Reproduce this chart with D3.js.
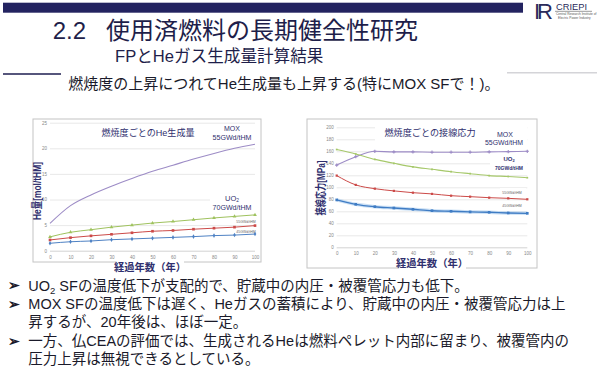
<!DOCTYPE html>
<html><head><meta charset="utf-8">
<script src="https://cdn.jsdelivr.net/npm/d3@7"></script>
<style>
html,body{margin:0;padding:0;background:#fff;}
text{font-family:"Liberation Sans","Noto Sans CJK JP",sans-serif;}
</style></head>
<body><svg id="c" width="599" height="368"></svg>
<script>
// ---- data ----
const years = [0,10,20,30,40,50,60,70,80,90,100];
const yearTicks = [0,10,20,30,40,50,60,70,80,90,100];
const heTicks = [0,5,10,15,20,25];
const stressTicks = [0,20,40,60,80,100,120,140,160,180,200];

const heMOX55  = [5.35,8.8,10.9,12.6,14.1,15.5,16.7,17.9,19.0,20.0,20.8];
const heUO2_70 = [2.7,3.6,4.1,4.6,5.0,5.4,5.7,6.05,6.4,6.7,7.0];
const heUO2_55 = [2.1,2.55,2.9,3.2,3.5,3.8,3.95,4.2,4.4,4.6,4.9];
const heUO2_45 = [1.45,1.75,1.9,2.15,2.3,2.45,2.6,2.75,2.95,3.05,3.25];

const stMOX55  = [137,151,160,159,159,158.5,158.5,158.5,159,159.5,160];
const stUO2_70 = [163,155.5,146.5,140,134,130,126,122.7,119.5,118,116];
const stUO2_55 = [119.5,104,97.7,94,91,89,86,84.4,82.7,81.6,80];
const stUO2_45 = [79,71.6,67.7,65.5,63.3,61,60,59,58.3,57.2,56.6];

const bullets = [
  ["UO", "2", " SFの温度低下が支配的で、貯蔵中の内圧・被覆管応力も低下。"],
  ["MOX SFの温度低下は遅く、Heガスの蓄積により、貯蔵中の内圧・被覆管応力は上"],
  ["昇するが、20年後は、ほぼ一定。"],
  ["一方、仏CEAの評価では、生成されるHeは燃料ペレット内部に留まり、被覆管内の"],
  ["圧力上昇は無視できるとしている。"]
];

const svg = d3.select("#c");
const navy = "#1e1e4a";
const labNavy = "#2f2f6e";

// ---- header ----
svg.append("rect").attr("x",3).attr("y",2.7).attr("width",520).attr("height",10).attr("fill","#232360");
svg.append("text").attr("x",534).attr("y",18.5).attr("font-family","Liberation Serif, DejaVu Serif, serif")
  .attr("font-size",22).attr("fill","#2a2a5a").attr("letter-spacing",-3).text("IR");
svg.append("text").attr("x",556).attr("y",9.5).attr("font-size",9.3).attr("fill","#2a2a5a").text("CRIEPI");
svg.append("line").attr("x1",555).attr("x2",592).attr("y1",11.3).attr("y2",11.3).attr("stroke","#555").attr("stroke-width",0.6);
svg.append("text").attr("x",556).attr("y",15.3).attr("font-size",3.2).attr("fill","#555").text("Central Research Institute of");
svg.append("text").attr("x",558).attr("y",19).attr("font-size",3.2).attr("fill","#555").text("Electric Power Industry");

svg.append("text").attr("x",52.7).attr("y",39.3).attr("font-size",24).attr("fill",navy).text("2.2");
svg.append("text").attr("x",106).attr("y",39.3).attr("font-size",24).attr("fill",navy).text("使用済燃料の長期健全性研究");
svg.append("text").attr("x",115).attr("y",61.7).attr("font-size",16.6).attr("fill",navy).text("FPとHeガス生成量計算結果");
svg.append("line").attr("x1",3).attr("x2",61).attr("y1",74).attr("y2",74).attr("stroke","#1e1e50").attr("stroke-width",1.4);
svg.append("line").attr("x1",507).attr("x2",597).attr("y1",72.7).attr("y2",72.7).attr("stroke","#d4d4d8").attr("stroke-width",1.5);
svg.append("text").attr("x",68.3).attr("y",89.3).attr("font-size",15).attr("fill","#1a1a2a").text("燃焼度の上昇につれてHe生成量も上昇する(特にMOX SFで！)。");

function whiteBehind(g, x, y, w, h){
  g.append("rect").attr("x",x).attr("y",y).attr("width",w).attr("height",h).attr("fill","#fff");
}

function drawChart(cfg){
  const g = svg.append("g");
  g.append("rect").attr("x",cfg.box[0]).attr("y",cfg.box[1]).attr("width",cfg.box[2]).attr("height",cfg.box[3])
    .attr("fill","#fff").attr("stroke","#c4c4c4").attr("stroke-width",1);
  const x = d3.scaleLinear().domain([0,100]).range(cfg.xr);
  const y = d3.scaleLinear().domain(cfg.yd).range(cfg.yr);
  const grid = g.append("g").attr("transform",`translate(${cfg.xr[0]},0)`)
    .call(d3.axisLeft(y).tickValues(cfg.yTicks).tickSize(-(cfg.xr[1]-cfg.xr[0])).tickFormat(""));
  grid.select(".domain").remove();
  grid.selectAll(".tick line").attr("stroke","#e2e2e2").attr("stroke-width",0.8);
  grid.selectAll(".tick").filter(d=>d===0).select("line").attr("stroke","#c8c8c8");
  cfg.whites.forEach(w=>whiteBehind(g,...w));
  const ya = g.append("g").attr("transform",`translate(${cfg.xr[0]-3},0)`)
    .call(d3.axisLeft(y).tickValues(cfg.yTicks).tickSize(0).tickPadding(0));
  ya.select(".domain").remove();
  ya.selectAll("text").attr("font-size",4.5).attr("fill","#888").attr("font-family","Liberation Sans, sans-serif");
  const xa = g.append("g").attr("transform",`translate(0,${cfg.yr[0]+cfg.xlabOff})`)
    .call(d3.axisBottom(x).tickValues(yearTicks).tickSize(0).tickPadding(0));
  xa.select(".domain").remove();
  xa.selectAll("text").attr("font-size",4.5).attr("fill","#888").attr("font-family","Liberation Sans, sans-serif");
  cfg.series.forEach(s=>{
    const line = d3.line().x((d,i)=>x(years[i])).y(d=>y(d)).curve(d3.curveMonotoneX);
    if (s.glow) g.append("path").attr("d",line(s.values)).attr("fill","none").attr("stroke",s.glow).attr("stroke-width",3.5).attr("opacity",0.6);
    g.append("path").attr("d",line(s.values)).attr("fill","none").attr("stroke",s.color).attr("stroke-width",s.w||1);
    if (s.marker) {
      const sym = d3.symbol().type(s.marker).size(s.msize||6);
      g.selectAll(null).data(s.values).enter().append("path")
        .attr("transform",(d,i)=>`translate(${x(years[i])},${y(d)})`)
        .attr("d",sym).attr("fill",s.color);
    }
  });
  const xt = cfg.xTitle;
  whiteBehind(g, xt[0]-34, xt[1]-8, 68, 14);
  g.append("text").attr("x",xt[0]).attr("y",xt[1]).attr("text-anchor","middle").attr("dominant-baseline","central")
    .attr("font-size",10.3).attr("font-weight","bold").attr("fill",labNavy).text("経過年数（年）");
  const yt = cfg.yTitle;
  g.append("text").attr("transform",`translate(${yt[0]},${yt[1]}) rotate(-90)`).attr("text-anchor","middle")
    .attr("dominant-baseline","central").attr("font-size",11).attr("font-weight","bold").attr("fill",labNavy)
    .attr("textLength",yt[2]).attr("lengthAdjust","spacingAndGlyphs").text(yt[3]);
  cfg.texts.forEach(t=>{
    const el = g.append("text").attr("x",t.x).attr("y",t.y).attr("font-size",t.size).attr("text-anchor",t.anchor||"middle")
      .attr("fill",t.fill||labNavy).attr("font-weight",t.bold?"bold":"normal");
    if (t.sub) {
      el.append("tspan").text(t.txt);
      el.append("tspan").attr("font-size",t.size*0.65).attr("dy",t.size*0.25).text(t.sub);
    } else el.text(t.txt);
    if (t.len) el.attr("textLength",t.len).attr("lengthAdjust","spacingAndGlyphs");
  });
}

drawChart({
  box:[33,119,228,143],
  xr:[50,255], yr:[250.7,122.7], yd:[0,25], yTicks:heTicks, xlabOff:5,
  whites:[[96,124,104,15],[210,124,46,17],[210,191,46,19],[234,218,24,6],[234,228,24,6]],
  series:[
    {values:heMOX55, color:"#9d8cc6", w:1.1},
    {values:heUO2_70, color:"#9fc25e", w:1, marker:d3.symbolTriangle, msize:6},
    {values:heUO2_55, color:"#cc4a48", w:1, marker:d3.symbolSquare, msize:7},
    {values:heUO2_45, color:"#4f82c4", w:1, marker:d3.symbolDiamond, msize:6}
  ],
  xTitle:[150,267.5], yTitle:[37,191,58,"He量[mol/tHM]"],
  texts:[
    {x:148,y:136,size:9.2,txt:"燃焼度ごとのHe生成量",len:93},
    {x:232,y:131,size:7,txt:"MOX"},
    {x:232,y:139.5,size:7,txt:"55GWd/tHM",len:39},
    {x:232,y:200.5,size:7.5,txt:"UO",sub:"2"},
    {x:232,y:209.5,size:7,txt:"70GWd/tHM",len:39},
    {x:246,y:223,size:3.5,txt:"55GWd/tHM",fill:"#666"},
    {x:246,y:233,size:3.5,txt:"45GWd/tHM",fill:"#666"}
  ]
});

drawChart({
  box:[307,119,230,149],
  xr:[336.7,527.3], yr:[247.3,127.3], yd:[0,200], yTicks:stressTicks, xlabOff:4,
  whites:[[375,122,108,19],[483,127,44,19],[490,151,37,21],[500,188,26,6],[500,201,26,6]],
  series:[
    {values:stMOX55, color:"#9d8cc6", w:1.1, marker:d3.symbolCross, msize:6},
    {values:stUO2_70, color:"#a6c86a", w:1.1, marker:d3.symbolSquare, msize:3},
    {values:stUO2_55, color:"#cc4a48", w:1, marker:d3.symbolSquare, msize:5},
    {values:stUO2_45, color:"#3f7cc4", w:1.4, glow:"#a8cbee", marker:d3.symbolSquare, msize:7}
  ],
  xTitle:[432,263.5], yTitle:[321,188,55,"接線応力[MPa]"],
  texts:[
    {x:430,y:135.5,size:9.2,txt:"燃焼度ごとの接線応力",len:91},
    {x:505,y:137,size:7,txt:"MOX"},
    {x:504,y:145,size:7,txt:"55GWd/tHM",len:38},
    {x:509,y:160.5,size:6,txt:"UO",sub:"2",bold:true},
    {x:509,y:169.5,size:6,txt:"70GWd/tHM",len:28,bold:true},
    {x:512,y:193.5,size:3.5,txt:"55GWd/tHM",fill:"#666"},
    {x:512,y:206.5,size:3.5,txt:"45GWd/tHM",fill:"#666"}
  ]
});

const by = [290.7,309.3,327.3,346,364];
const hasArrow = [true,true,false,true,false];
bullets.forEach((b,i)=>{
  if (hasArrow[i]) svg.append("text").attr("x",8).attr("y",by[i]-0.5).attr("font-family","DejaVu Sans, sans-serif")
    .attr("font-size",14).attr("font-weight","bold").attr("fill","#1a1a2a").text("➢");
  const t = svg.append("text").attr("x",28.3).attr("y",by[i]).attr("font-size",14.5).attr("fill","#1a1a2a");
  if (b.length===3) {
    t.append("tspan").text(b[0]);
    t.append("tspan").attr("font-size",9.5).attr("dy",3).text(b[1]);
    t.append("tspan").attr("dy",-3).text(b[2]);
  } else t.text(b[0]);
});
</script></body></html>
